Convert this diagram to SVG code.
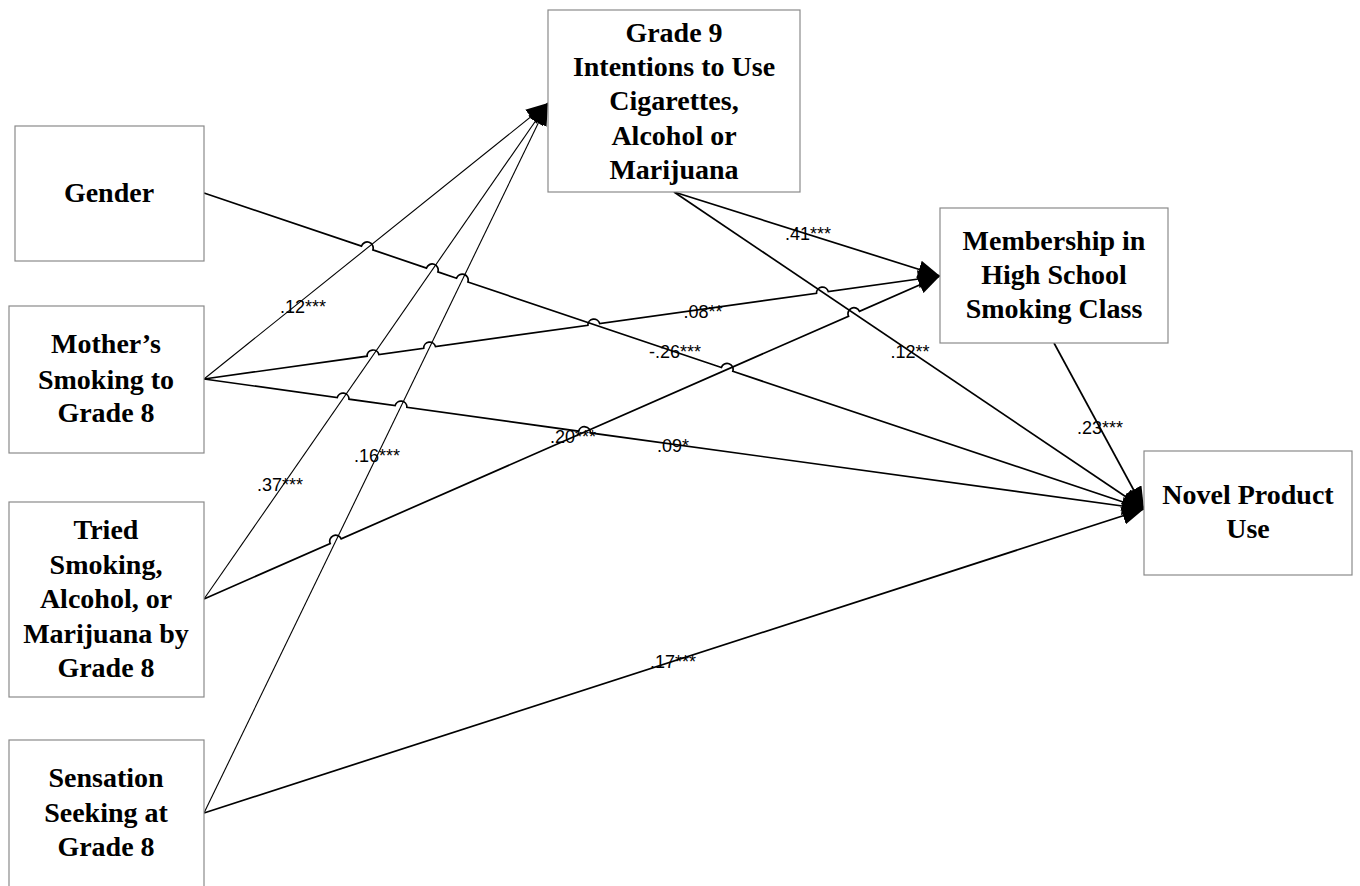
<svg xmlns="http://www.w3.org/2000/svg" width="1360" height="886" viewBox="0 0 1360 886">
<style>
.box{fill:#fff;stroke:#8a8a8a;stroke-width:1.2}
.nt{font-family:"Liberation Serif","Times New Roman",serif;font-weight:bold;font-size:28px;text-anchor:middle;fill:#000}
.ln{fill:none;stroke:#000;stroke-width:1.7;marker-end:url(#ah)}
.thin{stroke-width:1.1}
.lb{font-family:"Liberation Sans",Arial,sans-serif;font-size:18px;text-anchor:middle;fill:#000}
</style>
<defs>
<marker id="ah" markerUnits="userSpaceOnUse" markerWidth="22" markerHeight="18" viewBox="0 0 22 18" refX="22" refY="9" orient="auto">
<path d="M0,0 L22,9 L0,18 z" fill="#000"/>
</marker>
</defs>
<rect width="1360" height="886" fill="#fff"/>
<g id="connectors">
<path id="c-gender-novel" class="ln" d="M204,193 L361.5,246.1 A6,6 0 0 1 372.9,249.9 L426.5,268.1 A6,6 0 0 1 437.9,271.9 L456.5,278.2 A6,6 0 0 1 467.9,282 L721.4,367.5 A6,6 0 0 1 732.8,371.3 L1144,509"/>
<path id="c-mother-g9" class="ln thin" d="M204,379 L548,103"/>
<path id="c-tried-g9" class="ln thin" d="M204,599 L548,103"/>
<path id="c-sens-g9" class="ln thin" d="M204,813 L548,103"/>
<path id="c-mother-mem" class="ln" d="M204,379 L367.1,356.2 A6,6 0 0 1 378.9,354.5 L423.7,348.3 A6,6 0 0 1 435.5,346.6 L587.9,325.3 A6,6 0 0 1 599.7,323.6 L816.5,293.3 A6,6 0 0 1 828.3,291.6 L940,276"/>
<path id="c-mother-novel" class="ln" d="M204,379 L337.2,397.6 A6,6 0 0 1 349,399.2 L395.1,405.6 A6,6 0 0 1 406.9,407.3 L578.6,431.2 A6,6 0 0 1 590.4,432.9 L1144,509"/>
<path id="c-tried-mem" class="ln" d="M204,599 L330.2,543.6 A6,6 0 0 1 341.2,538.8 L848.5,316.2 A6,6 0 0 1 859.5,311.3 L940,276"/>
<path id="c-sens-novel" class="ln" d="M204,813 L1144,509"/>
<path id="c-g9-mem" class="ln" d="M674,192 L940,276"/>
<path id="c-g9-novel" class="ln" d="M674,192 L1144,509"/>
<path id="c-mem-novel" class="ln" d="M1054,343 L1144,509"/>
<text class="lb" x="303" y="313">.12***</text>
<text class="lb" x="808" y="240">.41***</text>
<text class="lb" x="703" y="318">.08**</text>
<text class="lb" x="675" y="358">-.26***</text>
<text class="lb" x="910" y="358">.12**</text>
<text class="lb" x="573" y="443">.20***</text>
<text class="lb" x="673" y="452">.09*</text>
<text class="lb" x="280" y="491">.37***</text>
<text class="lb" x="377" y="462">.16***</text>
<text class="lb" x="1100" y="434">.23***</text>
<text class="lb" x="673" y="668">.17***</text>
</g>
<g id="node-gender">
<rect class="box" x="15" y="126" width="189" height="135"/>
<text class="nt" x="109" y="202">Gender</text>
</g>
<g id="node-mother">
<rect class="box" x="9" y="306" width="195" height="147"/>
<text class="nt" x="106" y="353">Mother’s</text>
<text class="nt" x="106" y="389">Smoking to</text>
<text class="nt" x="106" y="422">Grade 8</text>
</g>
<g id="node-tried">
<rect class="box" x="9" y="502" width="195" height="195"/>
<text class="nt" x="106" y="539">Tried</text>
<text class="nt" x="106" y="574">Smoking,</text>
<text class="nt" x="106" y="608">Alcohol, or</text>
<text class="nt" x="106" y="643">Marijuana by</text>
<text class="nt" x="106" y="677">Grade 8</text>
</g>
<g id="node-sensation">
<rect class="box" x="9" y="740" width="195" height="170"/>
<text class="nt" x="106" y="787">Sensation</text>
<text class="nt" x="106" y="822">Seeking at</text>
<text class="nt" x="106" y="856">Grade 8</text>
</g>
<g id="node-grade9">
<rect class="box" x="548" y="10" width="252" height="182"/>
<text class="nt" x="674" y="42">Grade 9</text>
<text class="nt" x="674" y="76">Intentions to Use</text>
<text class="nt" x="674" y="110">Cigarettes,</text>
<text class="nt" x="674" y="145">Alcohol or</text>
<text class="nt" x="674" y="179">Marijuana</text>
</g>
<g id="node-membership">
<rect class="box" x="940" y="208" width="228" height="135"/>
<text class="nt" x="1054" y="250">Membership in</text>
<text class="nt" x="1054" y="284">High School</text>
<text class="nt" x="1054" y="318">Smoking Class</text>
</g>
<g id="node-novel">
<rect class="box" x="1144" y="451" width="208" height="124"/>
<text class="nt" x="1248" y="504">Novel Product</text>
<text class="nt" x="1248" y="538">Use</text>
</g>
</svg>
